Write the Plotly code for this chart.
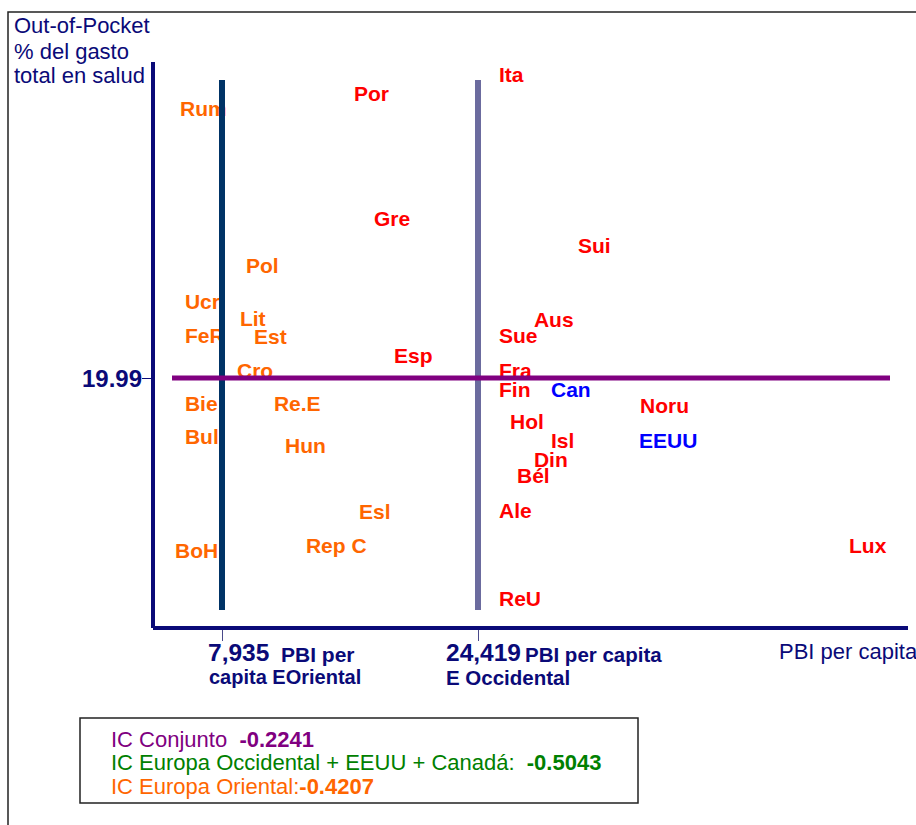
import plotly.graph_objects as go

# ---- data ----
east_names = ["Rum", "Pol", "Ucr", "Lit", "FeR", "Est", "Cro", "Bie", "Re.E", "Bul", "Hun", "Esl", "BoH", "Rep C"]
east_gdp = [5230, 9480, 5550, 9090, 5550, 9995, 8900, 5550, 11280, 5550, 11990, 16760, 4910, 13340]
east_oop = [41.4, 28.8, 25.9, 24.6, 23.2, 23.1, 20.4, 17.8, 17.8, 15.1, 14.4, 9.1, 6.0, 6.4]

west_names = ["Por", "Gre", "Esp", "Ita", "Sui", "Aus", "Sue", "Fra", "Fin", "Noru", "Hol", "Isl", "Din", "Bél", "Ale", "Lux", "ReU"]
west_gdp = [16430, 17720, 19010, 25770, 30860, 28020, 25770, 25770, 25770, 34850, 26480, 29120, 28020, 26930, 25770, 48310, 25770]
west_oop = [42.6, 32.6, 21.6, 44.1, 30.4, 24.5, 23.2, 20.4, 18.9, 17.6, 16.3, 14.8, 13.3, 12.0, 9.2, 6.4, 2.2]

na_names = ["Can", "EEUU"]
na_gdp = [29120, 34790]
na_oop = [18.9, 14.8]

mean_oop = 19.99
mean_gdp_east = 7935
mean_gdp_west = 24419
ic_conjunto = "-0.2241"
ic_west = "-0.5043"
ic_east = "-0.4207"

# ---- layout geometry (page pixels) ----
W, H = 916, 825
L, R, T, B = 153, 908, 62, 628          # plot area in page pixels
X_RANGE = [3492, 52107]
Y_RANGE = [0, 45.27]

def pxx(xp):
    return (xp - L) / (R - L)

def pxy(yp):
    return (B - yp) / (B - T)

FONT = "Arial, Liberation Sans, sans-serif"
NAVY = "#0A0A78"
ORANGE = "#FF6600"
RED = "#FF0000"
BLUE = "#0000FF"
PURPLE = "#800080"
GREEN = "#008000"

fig = go.Figure()

for names, xs, ys, col in [(east_names, east_gdp, east_oop, ORANGE),
                           (west_names, west_gdp, west_oop, RED),
                           (na_names, na_gdp, na_oop, BLUE)]:
    fig.add_trace(go.Scatter(
        x=xs, y=ys, text=names, mode="text",
        textposition="middle right",
        textfont=dict(family=FONT, size=21, color=col, weight="bold"),
        hoverinfo="x+y+text", showlegend=False, cliponaxis=False))

shapes = []
# outer frame
shapes.append(dict(type="rect", xref="paper", yref="paper",
                   x0=pxx(8), x1=pxx(960), y0=pxy(870), y1=pxy(12),
                   line=dict(color="#222222", width=1.5), fillcolor="rgba(0,0,0,0)", layer="below"))
# reference lines
shapes.append(dict(type="line", xref="x", yref="y", x0=mean_gdp_east, x1=mean_gdp_east,
                   y0=1.43, y1=43.83, line=dict(color="#003366", width=6)))
shapes.append(dict(type="line", xref="x", yref="y", x0=mean_gdp_west, x1=mean_gdp_west,
                   y0=1.43, y1=43.83, line=dict(color="#6B6B9E", width=6)))
shapes.append(dict(type="line", xref="x", yref="y", x0=4716, x1=50948,
                   y0=mean_oop, y1=mean_oop, line=dict(color=PURPLE, width=5)))
# axis lines
shapes.append(dict(type="line", xref="paper", yref="paper", x0=0, x1=0, y0=0, y1=1,
                   line=dict(color=NAVY, width=4)))
shapes.append(dict(type="line", xref="paper", yref="paper", x0=0, x1=1, y0=0, y1=0,
                   line=dict(color=NAVY, width=4)))
# legend box
shapes.append(dict(type="rect", xref="paper", yref="paper",
                   x0=pxx(80), x1=pxx(638), y0=pxy(803), y1=pxy(718),
                   line=dict(color="#222222", width=1.5), fillcolor="white"))

ann = []
def add_text(text, xp, yp, size, color, xanchor="left", bold=False):
    ann.append(dict(text=("<b>%s</b>" % text) if bold else text,
                    xref="paper", yref="paper", x=pxx(xp), y=pxy(yp),
                    xanchor=xanchor, yanchor="middle", showarrow=False,
                    font=dict(family=FONT, size=size, color=color)))

# y axis title
add_text("Out-of-Pocket", 12, 26, 22, NAVY)
add_text("% del gasto", 12, 51, 22, NAVY)
add_text("total en salud", 12, 76, 22, NAVY)
# y tick label
ann.append(dict(text="<b>%.2f</b>" % mean_oop, xref="paper", yref="y", x=pxx(144), y=mean_oop,
                xanchor="right", yanchor="middle", showarrow=False,
                font=dict(family=FONT, size=24, color=NAVY)))
# x tick labels
ann.append(dict(text="<b>{:,}</b>".format(mean_gdp_east), xref="x", yref="paper", x=mean_gdp_east,
                y=pxy(652), xanchor="left", xshift=-16, yanchor="middle", showarrow=False,
                font=dict(family=FONT, size=24.5, color=NAVY)))
add_text("PBI per", 279, 654, 21, NAVY, bold=True)
add_text("capita EOriental", 207, 677, 20, NAVY, bold=True)
ann.append(dict(text="<b>{:,}</b>".format(mean_gdp_west), xref="x", yref="paper", x=mean_gdp_west,
                y=pxy(652), xanchor="left", xshift=-34, yanchor="middle", showarrow=False,
                font=dict(family=FONT, size=24.5, color=NAVY)))
add_text("PBI per capita", 523, 654, 20.5, NAVY, bold=True)
add_text("E Occidental", 444, 677, 20.5, NAVY, bold=True)
add_text("PBI per capita", 777, 651, 22, NAVY)
# legend text
add_text("IC Conjunto  <b>%s</b>" % ic_conjunto, 109, 739, 22, PURPLE)
add_text("IC Europa Occidental + EEUU + Canadá:  <b>%s</b>" % ic_west, 109, 762, 22, GREEN)
add_text("IC Europa Oriental:<b>%s</b>" % ic_east, 109, 786, 22, ORANGE)

fig.update_layout(
    width=W, height=H,
    margin=dict(l=L, r=W - R, t=T, b=H - B, pad=0),
    paper_bgcolor="white", plot_bgcolor="white",
    xaxis=dict(range=X_RANGE, showgrid=False, zeroline=False, showline=False,
               tickvals=[mean_gdp_east, mean_gdp_west], ticks="outside", ticklen=12,
               tickwidth=1, tickcolor="#4A4A8A", showticklabels=False, fixedrange=True),
    yaxis=dict(range=Y_RANGE, showgrid=False, zeroline=False, showline=False,
               tickvals=[mean_oop], ticks="outside", ticklen=10, tickwidth=1,
               tickcolor=NAVY, showticklabels=False, fixedrange=True),
    shapes=shapes, annotations=ann, showlegend=False,
)

fig.write_html("out.html",
               config={"displayModeBar": False},
               post_script="document.body.style.margin='0px';document.body.style.overflow='hidden';")
